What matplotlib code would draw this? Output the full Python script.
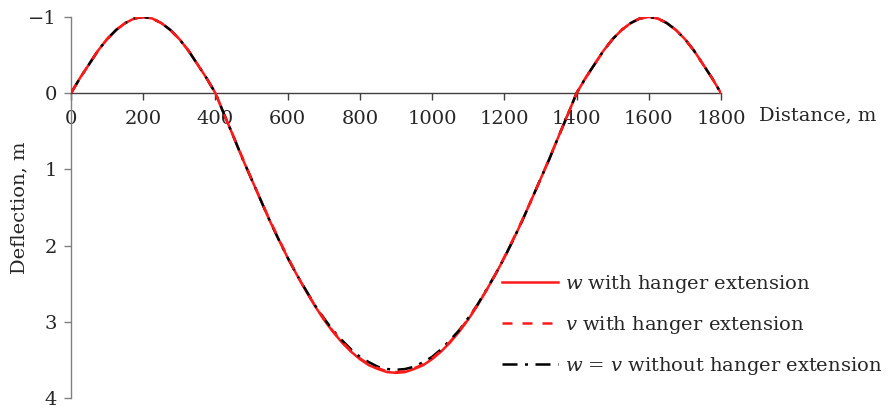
import matplotlib
matplotlib.use("Agg")
import matplotlib.pyplot as plt
from matplotlib.lines import Line2D

# ---- data (every 25 m) ----
distance = list(range(0, 1825, 25))

w_ext = [0.00, -0.20, -0.38, -0.56, -0.71, -0.83, -0.92, -0.98, -1.00, -0.98,
         -0.92, -0.83, -0.71, -0.56, -0.38, -0.20, 0.00,
         0.29, 0.57, 0.86, 1.13, 1.40, 1.67, 1.92, 2.16, 2.38, 2.59,
         2.79, 2.97, 3.13, 3.27, 3.39, 3.49, 3.57, 3.62, 3.66, 3.67,
         3.66, 3.62, 3.57, 3.49, 3.39, 3.27, 3.13, 2.97, 2.79, 2.59,
         2.38, 2.16, 1.92, 1.67, 1.40, 1.13, 0.86, 0.57, 0.29, 0.00,
         -0.20, -0.38, -0.56, -0.71, -0.83, -0.92, -0.98, -1.00, -0.98,
         -0.92, -0.83, -0.71, -0.56, -0.38, -0.20, 0.00]

v_ext = [0.00, -0.20, -0.38, -0.56, -0.71, -0.83, -0.92, -0.98, -1.00, -0.98,
         -0.92, -0.83, -0.71, -0.56, -0.38, -0.20, 0.00,
         0.29, 0.57, 0.85, 1.13, 1.40, 1.66, 1.91, 2.15, 2.38, 2.59,
         2.78, 2.96, 3.12, 3.26, 3.38, 3.48, 3.56, 3.61, 3.65, 3.66,
         3.65, 3.61, 3.56, 3.48, 3.38, 3.26, 3.12, 2.96, 2.78, 2.59,
         2.38, 2.15, 1.91, 1.66, 1.40, 1.13, 0.85, 0.57, 0.29, 0.00,
         -0.20, -0.38, -0.56, -0.71, -0.83, -0.92, -0.98, -1.00, -0.98,
         -0.92, -0.83, -0.71, -0.56, -0.38, -0.20, 0.00]

wv_noext = [0.00, -0.20, -0.38, -0.56, -0.71, -0.83, -0.92, -0.98, -1.00, -0.98,
            -0.92, -0.83, -0.71, -0.56, -0.38, -0.20, 0.00,
            0.29, 0.57, 0.86, 1.13, 1.40, 1.67, 1.92, 2.16, 2.38, 2.58,
            2.78, 2.95, 3.11, 3.24, 3.36, 3.46, 3.53, 3.59, 3.62, 3.63,
            3.62, 3.59, 3.53, 3.46, 3.36, 3.24, 3.11, 2.95, 2.78, 2.58,
            2.38, 2.16, 1.92, 1.67, 1.40, 1.13, 0.86, 0.57, 0.29, 0.00,
            -0.20, -0.38, -0.56, -0.71, -0.83, -0.92, -0.98, -1.00, -0.98,
            -0.92, -0.83, -0.71, -0.56, -0.38, -0.20, 0.00]

x_ticks = [0, 200, 400, 600, 800, 1000, 1200, 1400, 1600, 1800]
y_ticks = [-1, 0, 1, 2, 3, 4]
y_ticklabels = ["\u22121", "0", "1", "2", "3", "4"]

labels = ["$w$ with hanger extension",
          "$v$ with hanger extension",
          "$w$ = $v$ without hanger extension"]

# ---- style ----
plt.rcParams["font.family"] = ["DejaVu Serif"]
plt.rcParams["mathtext.fontset"] = "dejavuserif"
FS = 14
TXT = "#262626"
RED = "#ff1a1a"

fig = plt.figure(figsize=(8.9, 4.12), dpi=100)
ax = fig.add_axes([0.0798, 0.034, 0.7303, 0.9248])

ax.plot(distance, w_ext, color=RED, lw=1.8, solid_capstyle="butt", zorder=3)
ax.plot(distance, wv_noext, color="black", lw=1.8, dashes=(6, 3, 1.2, 3), zorder=4)
ax.plot(distance, v_ext, color=RED, lw=1.8, dashes=(4, 4), zorder=5)

ax.set_xlim(0, 1800)
ax.set_ylim(4, -1)

ax.spines["top"].set_visible(False)
ax.spines["right"].set_visible(False)
ax.spines["bottom"].set_position(("data", 0))
ax.spines["bottom"].set_color("#404040")
ax.spines["left"].set_color("#808080")
ax.spines["bottom"].set_linewidth(1.0)
ax.spines["left"].set_linewidth(1.0)

ax.set_xticks(x_ticks)
ax.set_xticklabels([str(t) for t in x_ticks], fontsize=FS, color=TXT)
ax.set_yticks(y_ticks)
ax.set_yticklabels(y_ticklabels, fontsize=FS, color=TXT)
ax.tick_params(axis="x", direction="out", length=5, width=1, color="#404040", pad=7)
ax.tick_params(axis="y", direction="out", length=5, width=1, color="#808080", pad=5)

ax.set_ylabel("Deflection, m", fontsize=FS, color=TXT, labelpad=0)
fig.text(759 / 890, 1 - 106 / 412, "Distance, m", fontsize=FS, color=TXT,
         ha="left", va="top")

handles = [
    Line2D([], [], color=RED, lw=1.8),
    Line2D([], [], color=RED, lw=1.8, dashes=(4, 4)),
    Line2D([], [], color="black", lw=1.8, dashes=(6, 3, 1.2, 3)),
]
leg = fig.legend(handles, labels, loc="upper left",
                 bbox_to_anchor=(502 / 890, 1 - 273 / 412),
                 frameon=False, fontsize=FS, handlelength=2.9, handletextpad=0.35,
                 labelspacing=0.98, borderaxespad=0, borderpad=0)
for t in leg.get_texts():
    t.set_color(TXT)

fig.savefig("out.png", dpi=100)
